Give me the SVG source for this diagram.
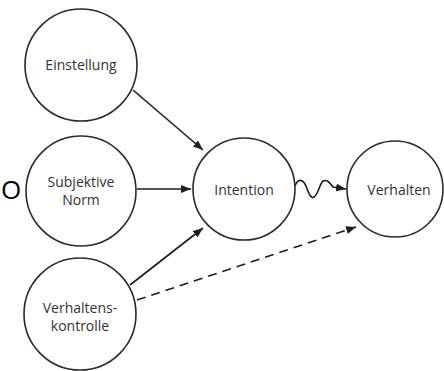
<svg xmlns="http://www.w3.org/2000/svg" width="444" height="371" viewBox="0 0 444 371">
<defs>
<style>
.node circle{fill:#fff;stroke:#2a2a2a;stroke-width:1.6}
.node text{font-family:"Open Sans","DejaVu Sans",sans-serif;font-size:14px;font-weight:500;fill:#333;text-anchor:middle}
.conn{fill:none;stroke:#1e1e1e;stroke-width:1.6}
.dash{stroke-dasharray:9 6}
</style>
<marker id="ah" viewBox="0 0 10 8" refX="10" refY="4" markerWidth="10" markerHeight="8" markerUnits="userSpaceOnUse" orient="auto">
<path d="M0,0 L10,4 L0,8 Z" fill="#1e1e1e"/>
</marker>
</defs>
<rect width="444" height="371" fill="#fff"/>
<text x="1" y="198.5" font-family="Open Sans, DejaVu Sans, sans-serif" font-size="26" font-weight="500" fill="#000">O</text>
<g id="connectors">
<path class="conn" d="M133,90 L203,150" marker-end="url(#ah)"/>
<path class="conn" d="M137,189 L191,189" marker-end="url(#ah)"/>
<path class="conn" d="M130,285 L203,228" marker-end="url(#ah)"/>
<path class="conn dash" d="M137,300 L356,227" marker-end="url(#ah)"/>
<path class="conn" d="M295,186 C298,178 303,179 306,186 C309,194 311,199 314,197 C318,195 320,183 323,181 C327,179 330,183 333,187 L346,189" marker-end="url(#ah)"/>
</g>
<g id="einstellung" class="node">
<circle cx="81" cy="65" r="56"/>
<text x="81" y="70">Einstellung</text>
</g>
<g id="subjektive-norm" class="node">
<circle cx="81" cy="191" r="55"/>
<text x="81" y="187">Subjektive</text>
<text x="81" y="205">Norm</text>
</g>
<g id="verhaltenskontrolle" class="node">
<circle cx="80" cy="314" r="56"/>
<text x="80" y="313">Verhaltens-</text>
<text x="80" y="331">kontrolle</text>
</g>
<g id="intention" class="node">
<circle cx="244" cy="189" r="51"/>
<text x="244" y="195">Intention</text>
</g>
<g id="verhalten" class="node">
<circle cx="395" cy="189" r="48"/>
<text x="399" y="195">Verhalten</text>
</g>
</svg>
